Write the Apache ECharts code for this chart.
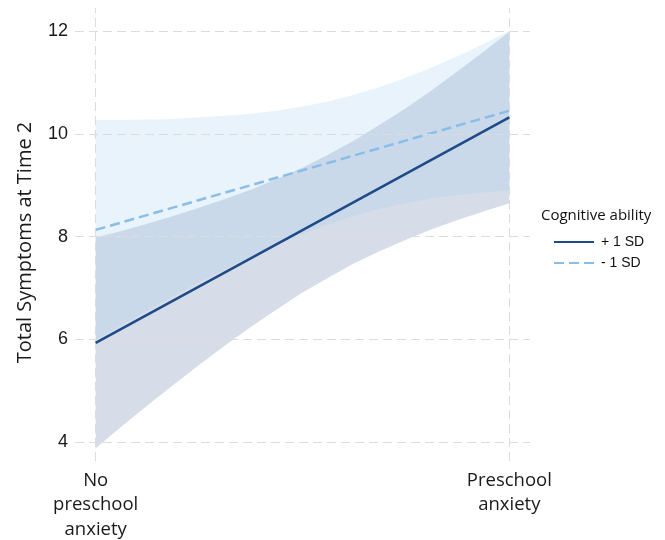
<!DOCTYPE html>
<html>
<head>
<meta charset="utf-8">
<script src="https://cdn.jsdelivr.net/npm/echarts@6/dist/echarts.min.js"></script>
<style>html,body{margin:0;padding:0;background:#fff;}#c{width:665px;height:540px;}</style>
</head>
<body>
<div id="c"></div>
<script>
// ---- data ----
const categories = ['No\npreschool\nanxiety', 'Preschool\nanxiety'];
const categoryX = [0, 1];
const yTicks = [4, 6, 8, 10, 12];
const seriesNames = ['+ 1 SD', '- 1 SD'];
const highSDLine = [5.93, 10.32];
const lowSDLine = [8.13, 10.45];
const bandX = [0, 0.0625, 0.125, 0.1875, 0.25, 0.3125, 0.375, 0.4375, 0.5, 0.5625, 0.625, 0.6875, 0.75, 0.8125, 0.875, 0.9375, 1];
const highSDUpper = [7.98, 8.11, 8.25, 8.40, 8.56, 8.73, 8.91, 9.12, 9.34, 9.60, 9.87, 10.18, 10.50, 10.85, 11.22, 11.60, 11.99];
const highSDLower = [3.88, 4.30, 4.71, 5.11, 5.50, 5.88, 6.24, 6.58, 6.91, 7.20, 7.48, 7.72, 7.94, 8.14, 8.32, 8.49, 8.65];
const lowSDUpper = [10.27, 10.27, 10.28, 10.29, 10.32, 10.35, 10.39, 10.45, 10.53, 10.63, 10.76, 10.91, 11.09, 11.29, 11.51, 11.75, 12.00];
const lowSDLower = [5.99, 6.28, 6.56, 6.84, 7.11, 7.36, 7.61, 7.84, 8.05, 8.24, 8.40, 8.54, 8.65, 8.74, 8.81, 8.86, 8.90];

const chart = echarts.init(document.getElementById('c'), null, {renderer: 'canvas'});

function bandSeries(upper, lower, fill, z) {
  return {
    type: 'custom',
    silent: true,
    z: z,
    data: bandX.map((x, i) => [x, lower[i], upper[i]]),
    encode: {x: 0, y: [1, 2]},
    renderItem: function (params, api) {
      if (params.dataIndex !== 0) return null;
      const pts = [];
      for (let i = 0; i < bandX.length; i++) pts.push(api.coord([bandX[i], upper[i]]));
      for (let i = bandX.length - 1; i >= 0; i--) pts.push(api.coord([bandX[i], lower[i]]));
      return {type: 'polygon', shape: {points: pts}, style: {fill: fill}};
    }
  };
}

const gridDash = {color: '#dcdcdc', width: 1, type: [9, 5]};

const option = {
  animation: false,
  title: {
    text: 'Cognitive ability',
    left: 536, top: 203,
    textStyle: {fontFamily: 'Open Sans', fontSize: 15, fontWeight: 'normal', color: '#111'}
  },
  legend: {
    orient: 'vertical',
    left: 553, top: 235, padding: 0,
    itemWidth: 40, itemHeight: 14, itemGap: 7,
    itemStyle: {opacity: 0},
    data: seriesNames,
    textStyle: {fontFamily: 'Liberation Sans', fontSize: 14, color: '#111', padding: [0, 0, 0, 2]}
  },
  grid: {left: 75, right: 135, top: 8, bottom: 79, outerBoundsMode: 'none', containLabel: false},
  xAxis: {
    type: 'value', min: -0.05, max: 1.05,
    axisLine: {show: false}, axisTick: {show: false}, splitLine: {show: false},
    axisLabel: {
      customValues: categoryX,
      formatter: function (v) { const i = categoryX.indexOf(v); return i >= 0 ? categories[i] : ''; },
      fontFamily: 'Open Sans', fontSize: 18.5, lineHeight: 24.5, color: '#1a1a1a', margin: 7
    }
  },
  yAxis: {
    type: 'value', min: 3.63, max: 12.45,
    name: 'Total Symptoms at Time 2', nameLocation: 'middle', nameGap: 40,
    nameTextStyle: {fontFamily: 'Open Sans', fontSize: 20, color: '#1a1a1a', padding: [0, 16, 0, 0]},
    axisLine: {show: false}, axisTick: {show: false}, splitLine: {show: false},
    axisLabel: {
      customValues: yTicks,
      fontFamily: 'Liberation Sans', fontSize: 18, color: '#1a1a1a', margin: 7
    }
  },
  series: [
    bandSeries(highSDUpper, highSDLower, '#d7dde8', 1),
    bandSeries(lowSDUpper, lowSDLower, 'rgba(160,205,243,0.24)', 2),
    {
      type: 'line', data: [], z: 3, silent: true,
      markLine: {
        silent: true, symbol: 'none', label: {show: false},
        lineStyle: gridDash,
        data: yTicks.map(v => ({yAxis: v})).concat(categoryX.map(v => ({xAxis: v})))
      }
    },
    {
      name: seriesNames[0], type: 'line', z: 5, symbol: 'none',
      data: categoryX.map((x, i) => [x, highSDLine[i]]),
      lineStyle: {color: '#1e4b87', width: 2.5},
      itemStyle: {color: '#1e4b87'}
    },
    {
      name: seriesNames[1], type: 'line', z: 4, symbol: 'none',
      data: categoryX.map((x, i) => [x, lowSDLine[i]]),
      lineStyle: {color: '#8abde8', width: 2.5, type: [10, 5]},
      itemStyle: {color: '#8abde8'}
    }
  ]
};
chart.setOption(option);
</script>
</body>
</html>
